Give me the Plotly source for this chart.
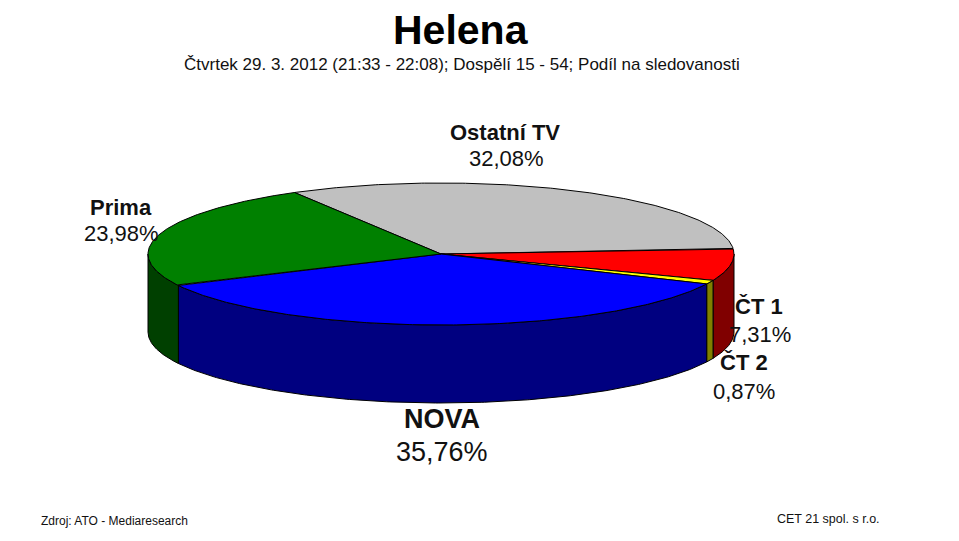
import numpy as np
import plotly.graph_objects as go

# Shares of the evening, clockwise from the upper left of the pie.
channels = ['Ostatní TV', 'ČT 1', 'ČT 2', 'NOVA', 'Prima']
shares = [32.08, 7.31, 0.87, 35.76, 23.98]
share_labels = ['32,08%', '7,31%', '0,87%', '35,76%', '23,98%']
top_colors = ['#C0C0C0', '#FF0000', '#FFFF00', '#0000FF', '#008000']
wall_colors = ['#808080', '#800000', '#808000', '#000080', '#004000']

# Pie geometry, in axis units (the axes run in window pixels).
cx, cy = 441, 254
rx, ry = 293, 71
depth = 78
start_angle = 120


def arc(a0, a1, dy=0):
    """Points of the ellipse rim between two angles in degrees."""
    n = max(int(abs(a1 - a0)) * 2, 2)
    t = np.radians(np.linspace(a0, a1, n))
    return cx + rx * np.cos(t), cy - ry * np.sin(t) + dy


# Turn the shares into angles, going clockwise.
ends = start_angle - np.cumsum(shares) * 3.6
starts = np.concatenate(([start_angle], ends[:-1]))

fig = go.Figure()

# Side walls first. Only the front half of the rim shows a wall.
for a0, a1, color in zip(starts, ends, wall_colors):
    for shift in (0, -360):
        lo, hi = max(a1 + shift, -180), min(a0 + shift, 0)
        if hi <= lo:
            continue
        x_top, y_top = arc(hi, lo)
        x_bot, y_bot = arc(lo, hi, depth)
        fig.add_trace(go.Scatter(
            x=np.concatenate((x_top, x_bot, x_top[:1])),
            y=np.concatenate((y_top, y_bot, y_top[:1])),
            mode='lines', fill='toself', fillcolor=color,
            line=dict(color='#000000', width=1), hoverinfo='skip'))

# Top face of each slice.
for a0, a1, color in zip(starts, ends, top_colors):
    x_rim, y_rim = arc(a0, a1)
    fig.add_trace(go.Scatter(
        x=np.concatenate(([cx], x_rim, [cx])),
        y=np.concatenate(([cy], y_rim, [cy])),
        mode='lines', fill='toself', fillcolor=color,
        line=dict(color='#000000', width=1), hoverinfo='skip'))

# Slice labels: centres of the name and of the share, and font size.
name_x = [505, 759, 744, 442, 121]
name_y = [132, 306, 362, 419, 207]
share_x = [506, 760, 744, 442, 121]
share_y = [158, 334, 391, 452, 233]
label_sizes = [22, 22, 22, 27, 22]
for i, name in enumerate(channels):
    fig.add_annotation(
        x=name_x[i], y=name_y[i], xref='x', yref='y', showarrow=False,
        text=f'<b>{name}</b>',
        font=dict(size=label_sizes[i], color='#111111'))
    fig.add_annotation(
        x=share_x[i], y=share_y[i], xref='x', yref='y', showarrow=False,
        text=share_labels[i],
        font=dict(size=label_sizes[i], color='#111111'))

fig.add_annotation(x=461, y=30, xref='x', yref='y', showarrow=False,
                   text='<b>Helena</b>',
                   font=dict(size=41, color='#000000'))
fig.add_annotation(x=462, y=64, xref='x', yref='y', showarrow=False,
                   text='Čtvrtek 29. 3. 2012 (21:33 - 22:08); Dospělí 15 - 54; Podíl na sledovanosti',
                   font=dict(size=17, color='#111111'))
fig.add_annotation(x=114, y=521, xref='x', yref='y', showarrow=False,
                   text='Zdroj: ATO - Mediaresearch',
                   font=dict(size=12, color='#111111'))
fig.add_annotation(x=828, y=519, xref='x', yref='y', showarrow=False,
                   text='CET 21 spol. s r.o.',
                   font=dict(size=12.5, color='#111111'))

# The page has an 8px body margin, so the axes start at 8.
fig.update_layout(
    width=951, height=533, showlegend=False,
    margin=dict(l=0, r=0, t=0, b=0),
    paper_bgcolor='white', plot_bgcolor='white',
    font=dict(family='Liberation Sans, Arial, sans-serif'),
    xaxis=dict(range=[8, 959], visible=False, fixedrange=True),
    yaxis=dict(range=[541, 8], visible=False, fixedrange=True),
)

fig.write_html("out.html")
